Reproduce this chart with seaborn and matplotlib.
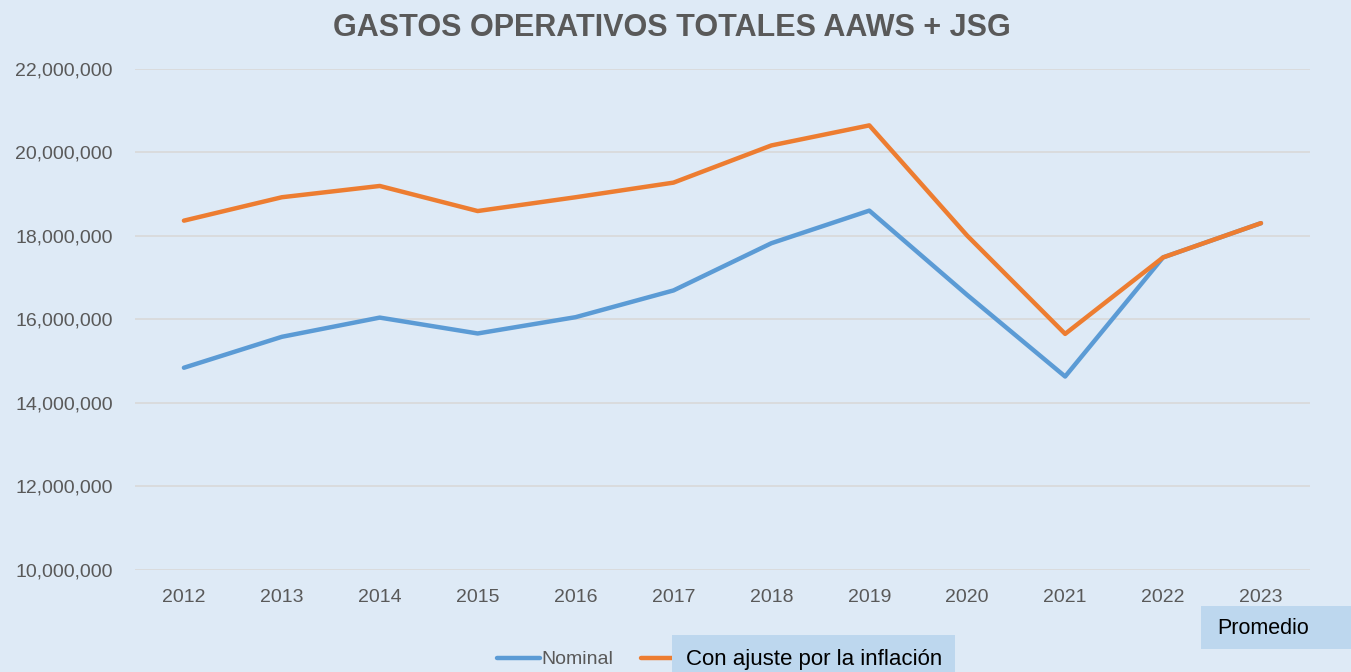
import matplotlib
matplotlib.use("Agg")
import matplotlib.pyplot as plt
import pandas as pd
import seaborn as sns
from matplotlib.patches import Rectangle
from matplotlib.ticker import FuncFormatter

years = ["2012", "2013", "2014", "2015", "2016", "2017",
         "2018", "2019", "2020", "2021", "2022", "2023"]
nominal = [14.84, 15.58, 16.04, 15.66, 16.05, 16.69,
           17.82, 18.60, 16.58, 14.63, 17.48, 18.30]
ajustado = [18.36, 18.92, 19.19, 18.59, 18.92, 19.27,
            20.16, 20.64, 18.00, 15.65, 17.48, 18.30]
series_names = ["Nominal", "Con ajuste por la inflación"]

df = pd.DataFrame({
    "year": years * 2,
    "value": [v * 1e6 for v in nominal + ajustado],
    "serie": [series_names[0]] * len(years) + [series_names[1]] * len(years),
})

bg = "#DEEAF6"
box_color = "#BDD7EE"
W, H = 1351, 672

sns.set_theme(style="white")
plt.rcParams["font.family"] = ["Liberation Sans", "DejaVu Sans"]

fig = plt.figure(figsize=(W / 100, H / 100), dpi=100, facecolor=bg)
ax = fig.add_axes([0.0999, 0.1518, 0.8697, 0.7462], facecolor=bg)

palette = {series_names[0]: "#5B9BD5", series_names[1]: "#ED7D31"}
sns.lineplot(data=df, x="year", y="value", hue="serie", palette=palette,
             linewidth=3.2, ax=ax, legend=False, sort=False)

ax.set_xlim(-0.5, len(years) - 0.5)
ax.set_ylim(10e6, 22e6)
ax.set_yticks([10e6 + 2e6 * i for i in range(7)])
ax.yaxis.set_major_formatter(FuncFormatter(lambda v, p: f"{v:,.0f}"))
ax.grid(axis="y", color="#D9D9D9", linewidth=1.2)
ax.set_axisbelow(True)
for s in ax.spines.values():
    s.set_visible(False)
ax.tick_params(axis="both", length=0, labelsize=14, labelcolor="#595959")
ax.tick_params(axis="x", pad=14)
ax.tick_params(axis="y", pad=16)
ax.set_xlabel("")
ax.set_ylabel("")

fig.text(0.497, 0.959, "GASTOS OPERATIVOS TOTALES AAWS + JSG", ha="center", va="center",
         fontsize=22, fontweight="bold", color="#595959")

# legend (second label sits in a highlighted box, as in the original)
handles = [plt.Line2D([], [], color=palette[n], linewidth=3.2) for n in series_names]
leg = fig.legend(handles, series_names, loc="center left",
                 bbox_to_anchor=(497 / W, 1 - 659 / H), ncol=2, frameon=False,
                 fontsize=14, labelcolor="#595959", handlelength=2.2,
                 handletextpad=0.1, columnspacing=1.4, borderpad=0, borderaxespad=0)
t = leg.get_texts()[1]
t.set_color("black")
t.set_fontsize(16)
t.set_bbox(dict(boxstyle="square,pad=0.6", facecolor=box_color, edgecolor="none"))

# "Promedio" box at lower right
fig.patches.append(Rectangle((1201 / W, 1 - 649 / H), 150 / W, 43 / H,
                             transform=fig.transFigure, facecolor=box_color,
                             edgecolor="none", zorder=1))
fig.text(1217 / W, 1 - 628 / H, "Promedio", ha="left", va="center",
         fontsize=15.5, color="black", zorder=2)

fig.savefig("out.png", dpi=100, facecolor=bg)
